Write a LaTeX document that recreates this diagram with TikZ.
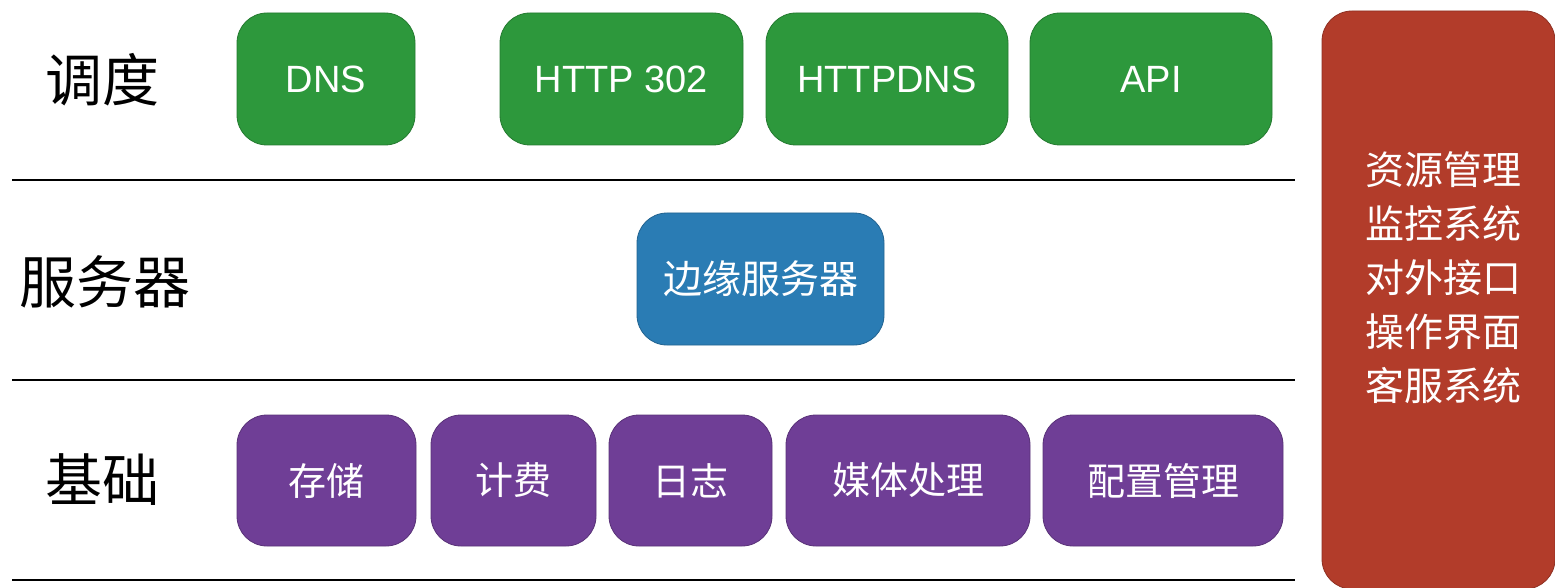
\documentclass[tikz,border=0pt]{standalone}
\usepackage{fontspec}
\setmainfont{Liberation Sans}
\newfontfamily\cjk{Noto Sans CJK SC}
\definecolor{boxgreen}{RGB}{45,152,60}
\definecolor{boxblue}{RGB}{42,124,180}
\definecolor{boxpurple}{RGB}{111,62,150}
\definecolor{boxred}{RGB}{178,60,42}

\begin{document}
\begin{tikzpicture}[line join=round,
        greenbox/.style={shape=rectangle, rounded corners=30pt, fill=boxgreen, draw=boxgreen!80!black, line width=0.8pt, text=white, minimum height=132pt, inner sep=0pt, font=\fontsize{38}{40}\selectfont},
        bluebox/.style={shape=rectangle, rounded corners=30pt, fill=boxblue, draw=boxblue!80!black, line width=0.8pt, text=white, minimum height=132pt, inner sep=0pt, font=\fontsize{39}{40}\selectfont\cjk},
        purplebox/.style={shape=rectangle, rounded corners=30pt, fill=boxpurple, draw=boxpurple!80!black, line width=0.8pt, text=white, minimum height=131pt, inner sep=0pt, font=\fontsize{38}{40}\selectfont\cjk},
        redbox/.style={shape=rectangle, rounded corners=30pt, fill=boxred, draw=boxred!80!black, line width=0.8pt, text=white, inner sep=0pt, font=\fontsize{39}{54}\selectfont\cjk, align=center},
        rowlabel/.style={font=\fontsize{57}{60}\selectfont\cjk, inner sep=0pt},
        sepline/.style={line width=2.6pt}]
        \useasboundingbox (0pt, 0pt) rectangle (1555pt, -588pt);
        % Row labels
        \node[rowlabel] (ldispatch) at (102pt, -80pt) {调度};
        \node[rowlabel] (lserver) at (105pt, -282pt) {服务器};
        \node[rowlabel] (lbase) at (102pt, -480pt) {基础};
        % Separators
        \foreach \y/\name in {180pt/one, 380pt/two, 580pt/three} {
          \coordinate (\name west) at (12pt, -\y);
          \coordinate (\name east) at (1295pt, -\y);
          \draw[sepline] (\name west) -- (\name east);
        }
        % Dispatch row
        \foreach \x/\w/\name/\txt in {326pt/178pt/dns/DNS, 621.5pt/243pt/http/HTTP 302, 887pt/242pt/httpdns/HTTPDNS, 1151pt/242pt/api/API} {
          \node[greenbox, minimum width=\w] (\name) at (\x, -79pt) {\txt};
        }
        % Server row
        \node[bluebox, minimum width=247pt] (edge) at (760.5pt, -279pt) {边缘服务器};
        % Base row
        \foreach \x/\w/\name/\txt in {326.5pt/179pt/storage/存储, 513.5pt/165pt/billing/计费, 690.5pt/163pt/log/日志, 908pt/244pt/media/媒体处理, 1163pt/240pt/config/配置管理} {
          \node[purplebox, minimum width=\w] (\name) at (\x, -480.5pt) {\txt};
        }
        % Side column
        \node[redbox, minimum width=233pt, minimum height=578pt] (manage) at (1438.5pt, -300pt) {};
        \node[redbox, fill=none, draw=none] (managetext) at (1443pt, -278pt) {资源管理\\监控系统\\对外接口\\操作界面\\客服系统};
\end{tikzpicture}
\end{document}
